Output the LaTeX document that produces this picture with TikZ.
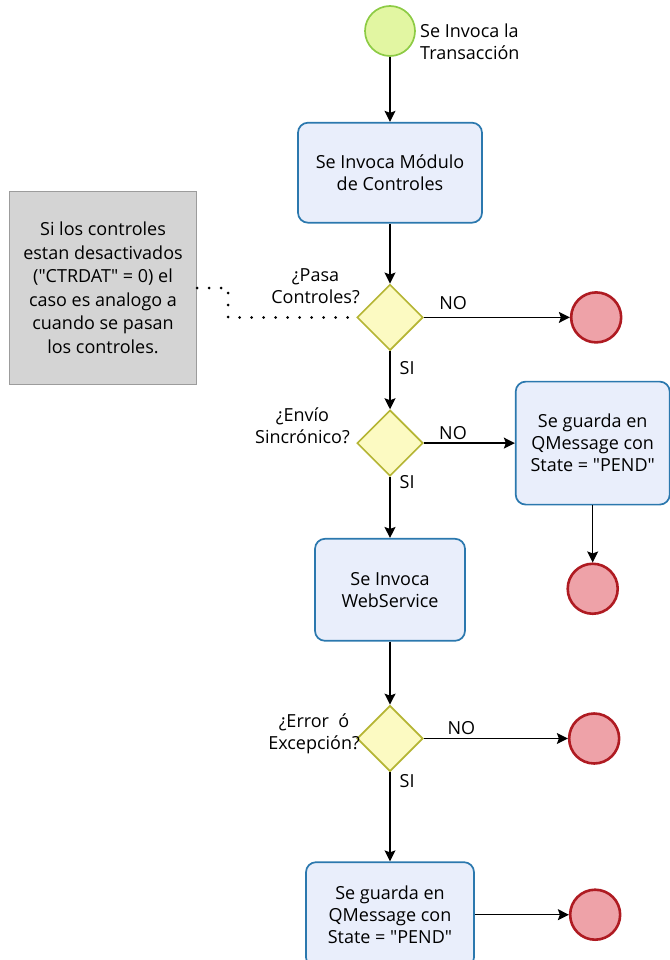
\documentclass[tikz,border=0pt]{standalone}
\usepackage{fontspec}
\setmainfont{Open Sans}
\usetikzlibrary{
  positioning,
  arrows.meta,
  shapes.geometric
}
\definecolor{taskline}{HTML}{2B78AE}
\definecolor{taskfill}{HTML}{E9EEFB}
\definecolor{gateline}{HTML}{B5B534}
\definecolor{gatefill}{HTML}{FCFAC2}
\definecolor{startline}{HTML}{8DCB45}
\definecolor{startfill}{HTML}{E2F6A2}
\definecolor{endline}{HTML}{AF1B22}
\definecolor{endfill}{HTML}{EEA2A8}
\definecolor{notefill}{HTML}{D4D4D4}
\definecolor{noteline}{HTML}{9C9C9C}
\newcommand{\flowfont}{\fontsize{18}{22}\selectfont}
\newcommand{\qd}{\textquotedbl}
\tikzset{
  task/.style={
    draw=taskline,
    fill=taskfill,
    line width=1.7pt,
    rounded corners=10pt,
    align=center,
    font=\flowfont,
  },
  gate/.style={
    diamond,
    draw=gateline,
    fill=gatefill,
    line width=1.7pt,
    minimum size=66pt,
    inner sep=0pt,
  },
  startev/.style={
    circle,
    draw=startline,
    fill=startfill,
    line width=1.7pt,
    minimum size=50pt,
  },
  endev/.style={
    circle,
    draw=endline,
    fill=endfill,
    line width=2.6pt,
    minimum size=50pt,
  },
  notebox/.style={
    draw=noteline,
    fill=notefill,
    line width=1pt,
    align=center,
    minimum width=187pt,
    minimum height=193pt,
    font=\fontsize{18}{23.5}\selectfont,
  },
  qtext/.style={
    align=center,
    font=\flowfont,
    inner sep=1pt,
  },
  flow/.style={
    ->,
    >={Stealth[length=11pt,width=11pt,inset=2pt]},
    line width=1.3pt,
  },
  branch/.style={
    font=\flowfont,
    inner sep=2pt,
  },
  assoc/.style={
    line width=3pt,
    line cap=round,
    dash pattern=on 0pt off 12pt,
  },
}

\begin{document}
\begin{tikzpicture}[x=1pt, y=1pt, node distance=60pt]
  \useasboundingbox (0,0) rectangle (669,-960);

  % nodes
  \node[startev] (inicio) at (390,-31) {};
  \node[qtext, anchor=west, align=left] at (419,-42) {Se Invoca la\\Transacción};

  \node[task, minimum width=184pt, minimum height=100pt, below=65pt of inicio] (controles)
    {Se Invoca Módulo\\de Controles};

  \node[gate, below=60pt of controles] (pasa) {};
  \node[qtext, anchor=east] at (361,-286) {¿Pasa\\Controles?};
  \node[endev, right=146pt of pasa] (fin1) {};

  \node[notebox] (nota) at (103,-288) {Si los controles\\estan desactivados\\(\qd CTRDAT\qd{} = 0) el\\caso es analogo a\\cuando se pasan\\los controles.};

  \node[gate, below=58pt of pasa] (sincro) {};
  \node[qtext, anchor=east] at (351,-426) {¿Envío\\Sincrónico?};
  \node[task, minimum width=154pt, minimum height=123pt, right=91pt of sincro] (pend1)
    {Se guarda en\\QMessage con\\State = \qd PEND\qd};
  \node[endev, below=57pt of pend1] (fin2) {};

  \node[task, minimum width=150pt, minimum height=102pt, below=61pt of sincro] (ws)
    {Se Invoca\\WebService};

  \node[gate, below=63pt of ws] (error) {};
  \node[qtext, anchor=east] at (361,-734) {¿Error~ ó\\Excepción?};
  \node[endev, right=144pt of error] (fin3) {};

  \node[task, minimum width=168pt, minimum height=105pt, below=89pt of error] (pend2)
    {Se guarda en\\QMessage con\\State = \qd PEND\qd};
  \node[endev, right=94pt of pend2] (fin4) {};

  % edges
  \draw[flow] (inicio) -- (controles);
  \draw[flow] (controles) -- (pasa);
  \draw[flow] (pasa) -- node[branch, pos=0.2, above=5pt] {NO} (fin1);
  \draw[flow] (pasa) -- node[branch, pos=0.29, right=7pt] {SI} (sincro);
  \draw[flow] (sincro) -- node[branch, pos=0.32, above=1pt] {NO} (pend1);
  \draw[flow] (sincro) -- node[branch, pos=0.08, right=7pt] {SI} (ws);
  \draw[flow] (pend1) -- (fin2);
  \draw[flow] (ws) -- (error);
  \draw[flow] (error) -- node[branch, pos=0.26, above=1pt] {NO} (fin3);
  \draw[flow] (error) -- node[branch, pos=0.1, right=7pt] {SI} (pend2);
  \draw[flow] (pend2) -- (fin4);

  \draw[assoc] (nota.east) -- ++(31,0) |- (pasa.west);
\end{tikzpicture}
\end{document}
